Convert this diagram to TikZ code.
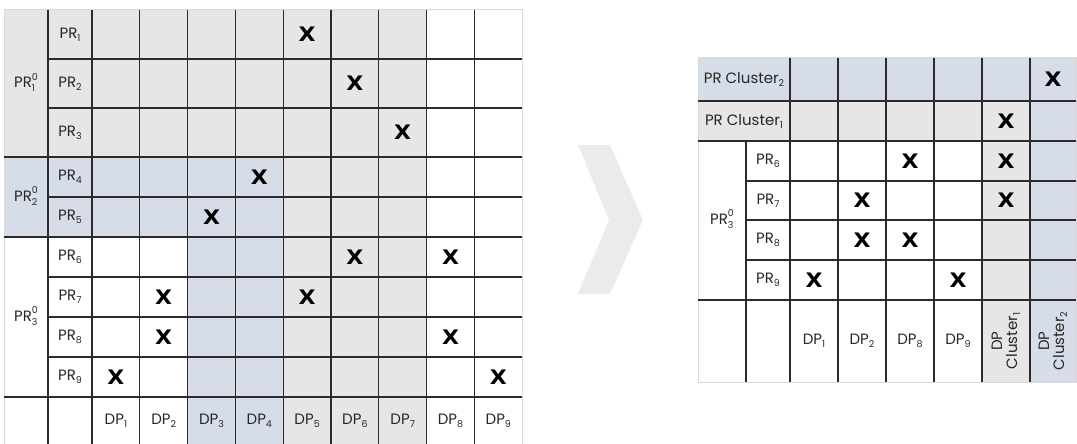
\documentclass[tikz,border=0pt]{standalone}
\usepackage{fontspec}
\setmainfont{Poppins}
\newfontfamily\xfont{DejaVu Sans}
\definecolor{gfill}{HTML}{E6E6E6}
\definecolor{bfill}{HTML}{D6DDE8}
\definecolor{chev}{HTML}{EBEBEB}
\definecolor{gline}{HTML}{2B2B2B}
\definecolor{border}{HTML}{D9D9D9}
\definecolor{txt}{HTML}{262626}
\newcommand\supsub[2]{\raisebox{-4pt}{\fontsize{9.5}{11.5}\selectfont\begin{tabular}[b]{@{}l@{}}#1\\#2\end{tabular}}}
\newcommand\sbs[1]{\raisebox{-3pt}{\fontsize{9.5}{11}\selectfont #1}}
\tikzset{
  grid/.style={draw=gline, line width=1.2pt},
  thick grid/.style={draw=gline, line width=2pt},
  outer/.style={draw=border, line width=1pt},
  lab/.style={font=\fontsize{15}{17}\selectfont, text=txt, inner sep=0pt},
  xmark/.style={font=\xfont\bfseries\fontsize{20}{20}\selectfont, text=black, inner sep=0pt, xscale=1.1},
  rot/.style={lab, rotate=90, align=center, font=\fontsize{15}{15}\selectfont}
}
\begin{document}
\begin{tikzpicture}[x=1pt,y=-1pt]
\useasboundingbox (0,0) rectangle (1077,444);
% ---------- left table fills
\fill[gfill] (4,10) rectangle (426.6,157);
\fill[bfill] (4,157) rectangle (283.2,237);
\fill[gfill] (283.2,157) rectangle (426.6,237);
\fill[bfill] (187.6,237) rectangle (283.2,444);
\fill[gfill] (283.2,237) rectangle (426.6,444);
% border
\draw[outer] (4,444) -- (4,10) -- (522.2,10) -- (522.2,444);
% verticals
\foreach \x in {48,92,139.8,187.6,235.4,283.2,331,378.8,426.6,474.4}
  \draw[grid] (\x,10) -- (\x,444);
% horizontals
\foreach \y in {59,108,197,277,317,357}
  \draw[grid] (48,\y) -- (522.2,\y);
\foreach \y in {157,237,397}
  \draw[thick grid] (4,\y) -- (522.2,\y);
% group labels
\node[lab] (g1) at (26,83.5) {PR\supsub{0}{1}};
\node[lab] (g2) at (26,197) {PR\supsub{0}{2}};
\node[lab] (g3) at (26,317) {PR\supsub{0}{3}};
% row labels
\foreach \i/\y in {1/34.5,2/83.5,3/132.5,4/177,5/217,6/257,7/297,8/337,9/377}
  \node[lab] (pr\i) at (70,\y) {PR\sbs{\i}};
% column labels
\foreach \i in {1,...,9}
  \node[lab] (dp\i) at ({92+47.8*(\i-0.5)},420.5) {DP\sbs{\i}};
% X marks (row/col)
\foreach \r/\y/\c in {1/34.5/5, 2/83.5/6, 3/132.5/7, 4/177/4, 5/217/3, 6/257/6, 6/257/8, 7/297/2, 7/297/5, 8/337/2, 8/337/8, 9/377/1, 9/377/9}
  \node[xmark] (x\r-\c) at ({92+47.8*(\c-0.5)},\y) {X};
% ---------- chevron
\fill[chev] (578,145) -- (610,145) -- (643,220) -- (610,294) -- (578,294) -- (609,220) -- cycle;
% ---------- right table fills
\fill[bfill] (698,58) rectangle (1076,101);
\fill[gfill] (698,101) rectangle (1030,141);
\fill[bfill] (1030,101) rectangle (1076,382);
\fill[gfill] (982,141) rectangle (1030,382);
\draw[outer] (698,58) rectangle (1076,382);
\draw[grid] (746,141) -- (746,382);
\foreach \x in {790,838,886,934,982,1030}
  \draw[grid] (\x,58) -- (\x,382);
\draw[grid] (698,101) -- (1076,101);
\draw[grid, line width=1.5pt] (698,141) -- (1076,141);
\foreach \y in {181,220,260}
  \draw[grid] (746,\y) -- (1076,\y);
\draw[thick grid] (698,300) -- (1076,300);
% labels
\node[lab] (rc2) at (744,79.5) {PR Cluster\sbs{2}};
\node[lab] (rc1) at (744,121) {PR Cluster\sbs{1}};
\node[lab] (rg3) at (722,220) {PR\supsub{0}{3}};
\foreach \i/\y in {6/161,7/200.5,8/240,9/280}
  \node[lab] (rpr\i) at (768,\y) {PR\sbs{\i}};
\foreach \i/\x in {1/814,2/862,8/910,9/958}
  \node[lab] (rdp\i) at (\x,341) {DP\sbs{\i}};
\node[rot] (rdc1) at (1006,341) {DP\\Cluster\sbs{1}};
\node[rot] (rdc2) at (1053,341) {DP\\Cluster\sbs{2}};
% X marks
\node[xmark] (rx1) at (1053,79.5) {X};
\node[xmark] (rx2) at (1006,121) {X};
\node[xmark] (rx3) at (910,161) {X};
\node[xmark] (rx4) at (1006,161) {X};
\node[xmark] (rx5) at (862,200.5) {X};
\node[xmark] (rx6) at (1006,200.5) {X};
\node[xmark] (rx7) at (862,240) {X};
\node[xmark] (rx8) at (910,240) {X};
\node[xmark] (rx9) at (814,280) {X};
\node[xmark] (rx10) at (958,280) {X};
\end{tikzpicture}
\end{document}
